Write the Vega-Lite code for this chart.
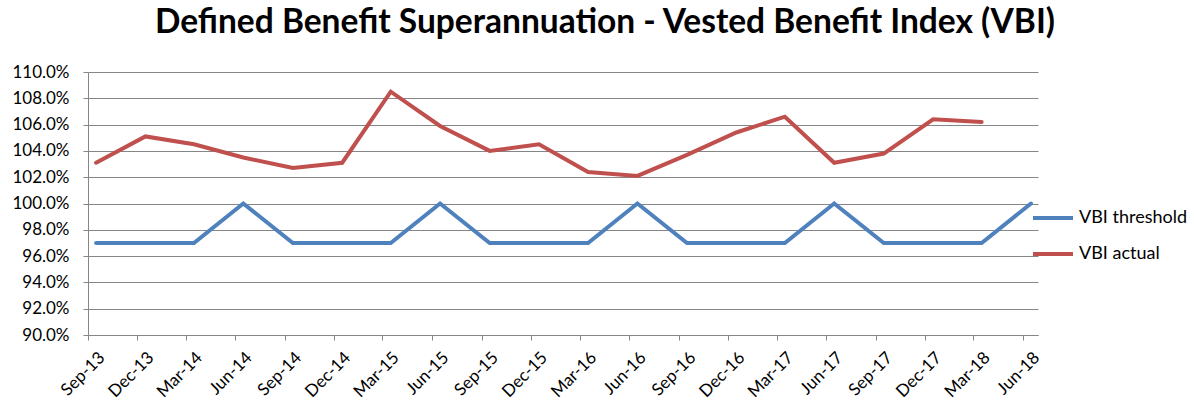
{
  "$schema": "https://vega.github.io/schema/vega-lite/v6.json",
  "width": 950,
  "height": 263,
  "autosize": {"type": "none"},
  "padding": {"left": 88, "top": 72, "right": 156, "bottom": 66},
  "background": "white",
  "title": {
    "text": "Defined Benefit Superannuation - Vested Benefit Index (VBI)",
    "font": "Lato",
    "fontSize": 33.5,
    "fontWeight": "bold",
    "color": "#000000",
    "anchor": "middle",
    "dx": 42,
    "offset": 23
  },
  "config": {
    "view": {"stroke": null},
    "font": "Lato"
  },
  "data": {
    "values": [
      {"quarter": "2013-09-01", "series": "VBI threshold", "value": 0.97},
      {"quarter": "2013-12-01", "series": "VBI threshold", "value": 0.97},
      {"quarter": "2014-03-01", "series": "VBI threshold", "value": 0.97},
      {"quarter": "2014-06-01", "series": "VBI threshold", "value": 1.0},
      {"quarter": "2014-09-01", "series": "VBI threshold", "value": 0.97},
      {"quarter": "2014-12-01", "series": "VBI threshold", "value": 0.97},
      {"quarter": "2015-03-01", "series": "VBI threshold", "value": 0.97},
      {"quarter": "2015-06-01", "series": "VBI threshold", "value": 1.0},
      {"quarter": "2015-09-01", "series": "VBI threshold", "value": 0.97},
      {"quarter": "2015-12-01", "series": "VBI threshold", "value": 0.97},
      {"quarter": "2016-03-01", "series": "VBI threshold", "value": 0.97},
      {"quarter": "2016-06-01", "series": "VBI threshold", "value": 1.0},
      {"quarter": "2016-09-01", "series": "VBI threshold", "value": 0.97},
      {"quarter": "2016-12-01", "series": "VBI threshold", "value": 0.97},
      {"quarter": "2017-03-01", "series": "VBI threshold", "value": 0.97},
      {"quarter": "2017-06-01", "series": "VBI threshold", "value": 1.0},
      {"quarter": "2017-09-01", "series": "VBI threshold", "value": 0.97},
      {"quarter": "2017-12-01", "series": "VBI threshold", "value": 0.97},
      {"quarter": "2018-03-01", "series": "VBI threshold", "value": 0.97},
      {"quarter": "2018-06-01", "series": "VBI threshold", "value": 1.0},
      {"quarter": "2013-09-01", "series": "VBI actual", "value": 1.031},
      {"quarter": "2013-12-01", "series": "VBI actual", "value": 1.051},
      {"quarter": "2014-03-01", "series": "VBI actual", "value": 1.045},
      {"quarter": "2014-06-01", "series": "VBI actual", "value": 1.035},
      {"quarter": "2014-09-01", "series": "VBI actual", "value": 1.027},
      {"quarter": "2014-12-01", "series": "VBI actual", "value": 1.031},
      {"quarter": "2015-03-01", "series": "VBI actual", "value": 1.085},
      {"quarter": "2015-06-01", "series": "VBI actual", "value": 1.059},
      {"quarter": "2015-09-01", "series": "VBI actual", "value": 1.040},
      {"quarter": "2015-12-01", "series": "VBI actual", "value": 1.045},
      {"quarter": "2016-03-01", "series": "VBI actual", "value": 1.024},
      {"quarter": "2016-06-01", "series": "VBI actual", "value": 1.021},
      {"quarter": "2016-09-01", "series": "VBI actual", "value": 1.037},
      {"quarter": "2016-12-01", "series": "VBI actual", "value": 1.054},
      {"quarter": "2017-03-01", "series": "VBI actual", "value": 1.066},
      {"quarter": "2017-06-01", "series": "VBI actual", "value": 1.031},
      {"quarter": "2017-09-01", "series": "VBI actual", "value": 1.038},
      {"quarter": "2017-12-01", "series": "VBI actual", "value": 1.064},
      {"quarter": "2018-03-01", "series": "VBI actual", "value": 1.062}
    ]
  },
  "mark": {"type": "line", "strokeWidth": 4, "strokeCap": "round", "strokeJoin": "miter"},
  "encoding": {
    "x": {
      "field": "quarter",
      "type": "temporal",
      "timeUnit": "utcyearmonth",
      "bandPosition": 0.5,
      "title": null,
      "scale": {
        "nice": false,
        "domain": [
          {"year": 2013, "month": 9, "date": 1, "utc": true},
          {"year": 2018, "month": 6, "date": 29, "utc": true}
        ]
      },
      "axis": {
        "values": [
          {"year": 2013, "month": 9, "date": 1, "utc": true},
          {"year": 2013, "month": 12, "date": 1, "utc": true},
          {"year": 2014, "month": 3, "date": 1, "utc": true},
          {"year": 2014, "month": 6, "date": 1, "utc": true},
          {"year": 2014, "month": 9, "date": 1, "utc": true},
          {"year": 2014, "month": 12, "date": 1, "utc": true},
          {"year": 2015, "month": 3, "date": 1, "utc": true},
          {"year": 2015, "month": 6, "date": 1, "utc": true},
          {"year": 2015, "month": 9, "date": 1, "utc": true},
          {"year": 2015, "month": 12, "date": 1, "utc": true},
          {"year": 2016, "month": 3, "date": 1, "utc": true},
          {"year": 2016, "month": 6, "date": 1, "utc": true},
          {"year": 2016, "month": 9, "date": 1, "utc": true},
          {"year": 2016, "month": 12, "date": 1, "utc": true},
          {"year": 2017, "month": 3, "date": 1, "utc": true},
          {"year": 2017, "month": 6, "date": 1, "utc": true},
          {"year": 2017, "month": 9, "date": 1, "utc": true},
          {"year": 2017, "month": 12, "date": 1, "utc": true},
          {"year": 2018, "month": 3, "date": 1, "utc": true},
          {"year": 2018, "month": 6, "date": 1, "utc": true}
        ],
        "format": "%b-%y",
        "labelAngle": -45,
        "labelAlign": "right",
        "labelBaseline": "top",
        "labelFont": "Lato",
        "labelFontSize": 17,
        "labelColor": "#000000",
        "labelPadding": 9,
        "labelOffset": 8,
        "labelOverlap": false,
        "labelFlush": false,
        "grid": false,
        "domainColor": "#868686",
        "domainWidth": 1,
        "tickColor": "#868686",
        "tickSize": 5
      }
    },
    "y": {
      "field": "value",
      "type": "quantitative",
      "title": null,
      "scale": {"domain": [0.9, 1.1], "nice": false, "zero": false},
      "axis": {
        "values": [0.9, 0.92, 0.94, 0.96, 0.98, 1.0, 1.02, 1.04, 1.06, 1.08, 1.1],
        "format": ".1%",
        "labelFont": "Lato",
        "labelFontSize": 17,
        "labelColor": "#000000",
        "labelPadding": 14,
        "grid": true,
        "gridColor": "#868686",
        "gridWidth": 1,
        "domainColor": "#868686",
        "tickColor": "#868686",
        "tickSize": 5
      }
    },
    "color": {
      "field": "series",
      "type": "nominal",
      "title": null,
      "sort": ["VBI threshold", "VBI actual"],
      "scale": {"domain": ["VBI threshold", "VBI actual"], "range": ["#4F81BD", "#C0504D"]},
      "legend": {
        "orient": "none",
        "legendX": 943,
        "legendY": 124,
        "symbolType": "stroke",
        "symbolSize": 1600,
        "symbolStrokeWidth": 4,
        "labelFont": "Lato",
        "labelFontSize": 18,
        "labelColor": "#000000",
        "labelOffset": 4,
        "rowPadding": 5
      }
    }
  }
}
